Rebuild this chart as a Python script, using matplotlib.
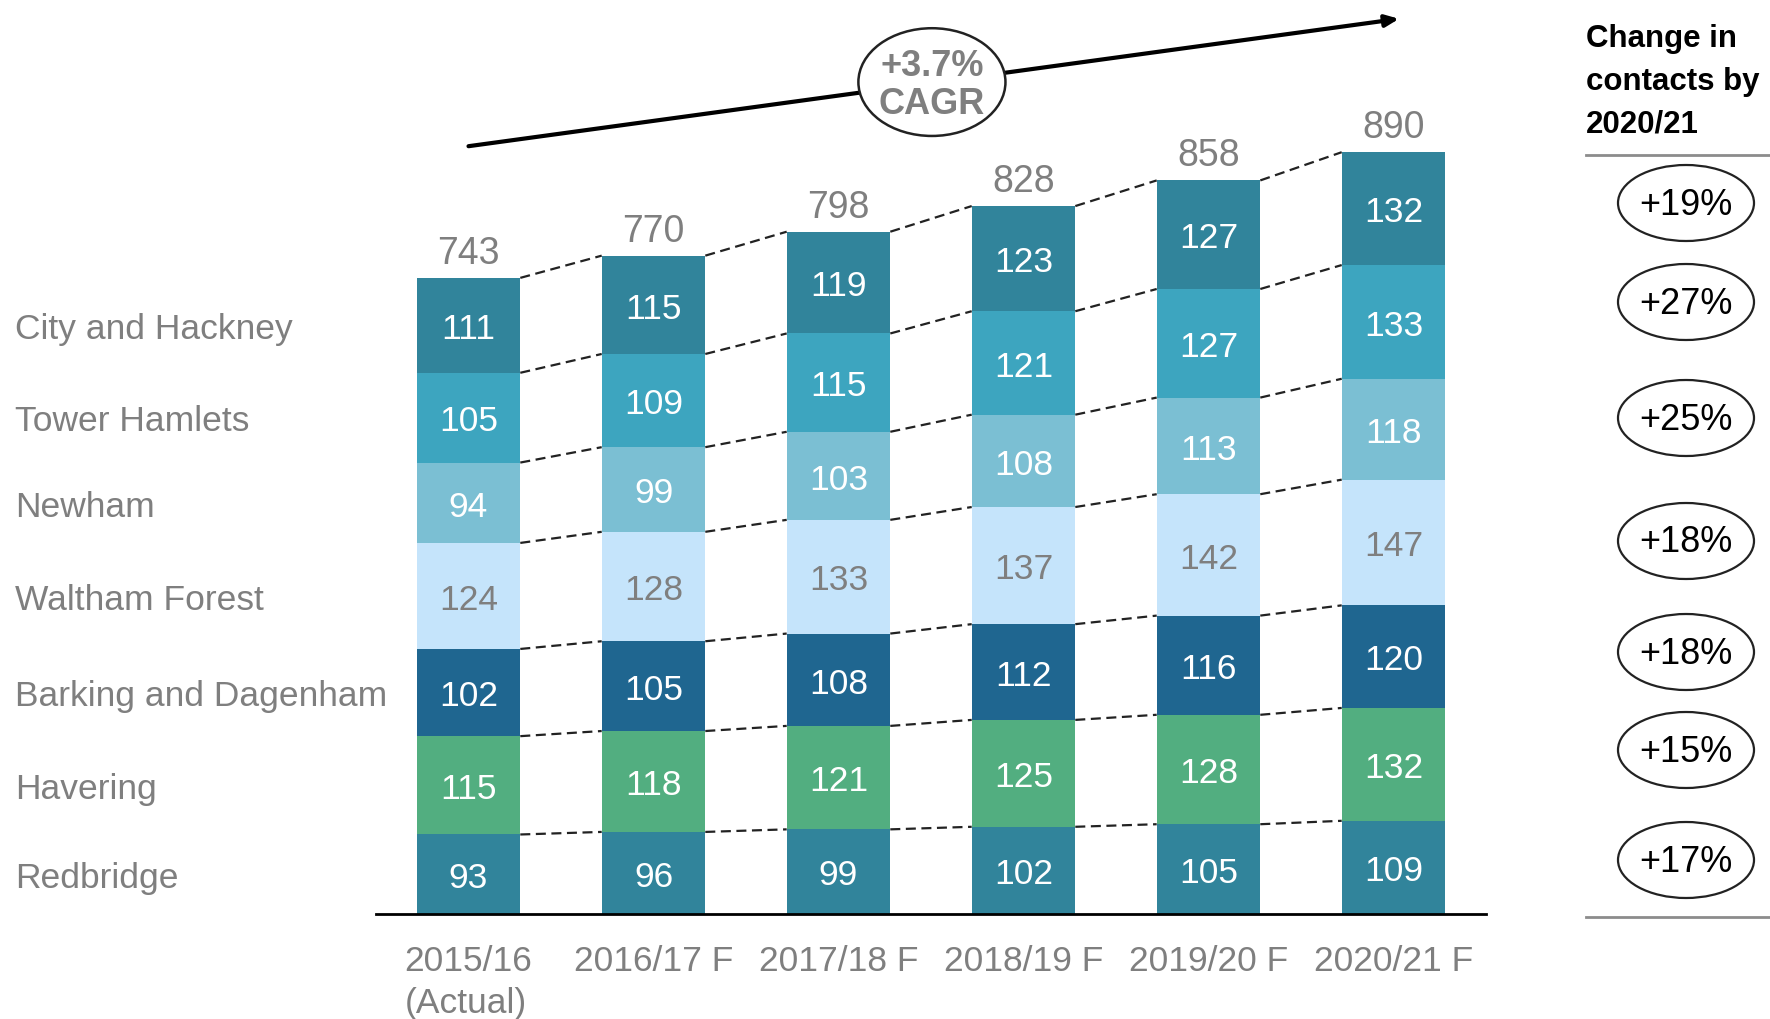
import matplotlib.pyplot as plt
import numpy as np
from matplotlib.patches import Ellipse
from matplotlib.transforms import blended_transform_factory

plt.rcParams['font.family'] = ['Liberation Sans', 'DejaVu Sans']

years = ['2015/16\n(Actual)', '2016/17 F', '2017/18 F', '2018/19 F', '2019/20 F', '2020/21 F']
totals = [743, 770, 798, 828, 858, 890]

# bottom to top
boroughs = ['Redbridge', 'Havering', 'Barking and Dagenham', 'Waltham Forest',
            'Newham', 'Tower Hamlets', 'City and Hackney']
redbridge = [93, 96, 99, 102, 105, 109]
havering = [115, 118, 121, 125, 128, 132]
barking = [102, 105, 108, 112, 116, 120]
waltham = [124, 128, 133, 137, 142, 147]
newham = [94, 99, 103, 108, 113, 118]
tower = [105, 109, 115, 121, 127, 133]
hackney = [111, 115, 119, 123, 127, 132]
series = [redbridge, havering, barking, waltham, newham, tower, hackney]

colors = ['#31849b', '#52ae80', '#1f6690', '#c5e4fb', '#7bbfd3', '#3da5bf', '#31849b']
text_colors = ['white', 'white', 'white', '#7f7f7f', 'white', 'white', 'white']

change = ['+17%', '+15%', '+18%', '+18%', '+25%', '+27%', '+19%']
cagr = '+3.7%\nCAGR'

W, H = 1770, 1019
fig = plt.figure(figsize=(W / 100, H / 100), dpi=100)

base_px = 914
px_per_unit = 0.855
ax = fig.add_axes([376 / W, (H - base_px) / H, 1110 / W, base_px / H])
ax.set_xlim(-0.5, 5.5)
ax.set_ylim(0, base_px / px_per_unit)
for s in ['top', 'right', 'left']:
    ax.spines[s].set_visible(False)
ax.spines['bottom'].set_linewidth(2)
ax.set_yticks([])

x = np.arange(len(years))
bw = 0.56
nudge = 5  # push digit labels down a bit so they sit visually centred
bottom = np.zeros(len(years))
tops = []
for vals, col, tc in zip(series, colors, text_colors):
    vals = np.array(vals)
    ax.bar(x, vals, bw, bottom=bottom, color=col, edgecolor='none', zorder=2)
    for xi, b, v in zip(x, bottom, vals):
        ax.text(xi, b + v / 2 - nudge, str(v), ha='center', va='center', color=tc,
                fontsize=25.5, zorder=3)
    bottom = bottom + vals
    tops.append(bottom.copy())

# dashed connectors between bars
for t in tops:
    for i in range(len(x) - 1):
        ax.plot([x[i] + bw / 2, x[i + 1] - bw / 2], [t[i], t[i + 1]], ls=(0, (4.5, 2.5)),
                color='#222222', lw=1.6, zorder=1)

for xi, t, tot in zip(x, tops[-1], totals):
    ax.text(xi, t + 7, str(tot), ha='center', va='bottom', color='#7f7f7f', fontsize=27)

ax.set_xticks(x)
ax.set_xticklabels(years, fontsize=25.5, color='#7f7f7f', linespacing=1.38)
for lbl in ax.get_xticklabels():
    lbl.set_multialignment('left')
ax.tick_params(axis='x', length=0, pad=22)

# borough labels aligned with first bar segments
tr = blended_transform_factory(fig.transFigure, ax.transData)
prev = 0
for name, t in zip(boroughs, tops):
    ax.text(15 / W, (prev + t[0]) / 2 - nudge, name, transform=tr, ha='left', va='center',
            color='#7f7f7f', fontsize=25.5)
    prev = t[0]

# CAGR arrow
ax.annotate('', xy=(5.03, 1047), xytext=(0.0, 898),
            arrowprops=dict(arrowstyle='-|>,head_length=0.8,head_width=0.35', color='black',
                            lw=3, shrinkA=0, shrinkB=0),
            annotation_clip=False, zorder=4)
ax.add_patch(Ellipse((2.505, 973), 0.795, 126, facecolor='white', edgecolor='#222222',
                     lw=1.8, zorder=5, clip_on=False))
ax.text(2.505, 969, cagr, ha='center', va='center', color='#7f7f7f', fontsize=26,
        fontweight='bold', linespacing=1.12, zorder=6)

# right panel overlay in pixel coords
ov = fig.add_axes([0, 0, 1, 1], zorder=-1)
ov.set_xlim(0, W)
ov.set_ylim(H, 0)
ov.axis('off')
ov.text(1586, 82, 'Change in\ncontacts by\n2020/21', ha='left', va='center', fontsize=22.5,
        fontweight='bold', linespacing=1.55)
ov.plot([1586, 1770], [155, 155], color='#8c8c8c', lw=2)
ov.plot([1586, 1770], [917, 917], color='#8c8c8c', lw=2)
ell_y = [860, 750, 652, 541, 418, 302, 203]
for yy, txt in zip(ell_y, change):
    ov.add_patch(Ellipse((1686, yy), 136, 76, facecolor='white', edgecolor='#222222', lw=1.6))
    ov.text(1686, yy + 2, txt, ha='center', va='center', fontsize=26)

fig.savefig('out.png', dpi=100)
